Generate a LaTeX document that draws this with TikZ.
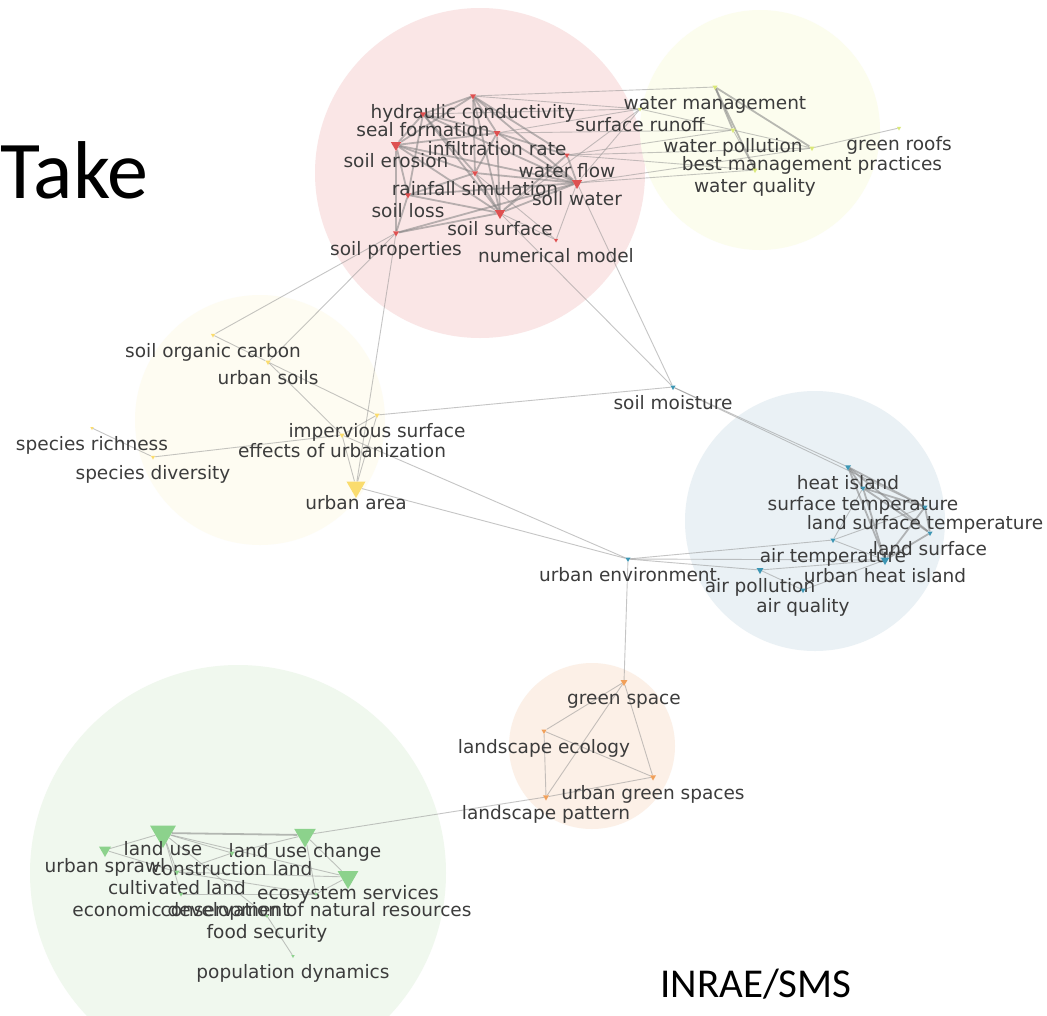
\documentclass[tikz,border=0pt]{standalone}
\usepackage{fontspec}
\usepackage{tikz}
\usetikzlibrary{shapes.geometric}
\newfontfamily\kwfont{DejaVu Sans}
\newfontfamily\slidefont{Carlito}
\definecolor{soilbg}{RGB}{250,230,230}
\definecolor{waterbg}{RGB}{252,253,238}
\definecolor{urbanbg}{RGB}{254,252,242}
\definecolor{heatbg}{RGB}{234,241,245}
\definecolor{greenbg}{RGB}{252,240,231}
\definecolor{landbg}{RGB}{240,248,238}
\definecolor{soilcol}{RGB}{222,80,80}
\definecolor{watercol}{RGB}{218,232,120}
\definecolor{urbancol}{RGB}{250,220,110}
\definecolor{heatcol}{RGB}{60,150,180}
\definecolor{greencol}{RGB}{240,160,90}
\definecolor{landcol}{RGB}{140,210,140}
\definecolor{kwtext}{RGB}{60,60,60}
\pgfdeclarelayer{bg}
\pgfdeclarelayer{links}
\pgfsetlayers{bg,links,main}
\tikzset{
  kwmark/.style={regular polygon,regular polygon sides=3,shape border rotate=180,
    inner sep=0pt,draw=none},
  kwlabel/.style={anchor=base,inner sep=0pt,text=kwtext,
    font=\kwfont\fontsize{18.5}{19}\selectfont},
  link/.style={line width=0.9pt,draw=black!45,draw opacity=0.5},
  heavylink/.style={line width=1.8pt,draw=black!50,draw opacity=0.55}
}
% keyword: name, x, y, marker size, colour, label
\newcommand{\kwnode}[6]{%
  \node[kwmark,minimum size=#4pt,fill=#5] (#1) at (#2,#3) {};
  \node[kwlabel] (#1l) at (#2,#3+22) {#6};}

\begin{document}
\begin{tikzpicture}[x=1pt,y=-1pt,line cap=round,line join=round]
\clip (0,0) rectangle (1047,1015);
\begin{pgfonlayer}{bg}
  \fill[white] (0,0) rectangle (1047,1015);
  \fill[soilbg] (480,173) circle [radius=165];
  \fill[waterbg] (760,130) circle [radius=120];
  \fill[urbanbg] (260,420) circle [radius=125];
  \fill[heatbg] (815,521) circle [radius=130];
  \fill[greenbg] (592,746) circle [radius=83];
  \fill[landbg] (238,873) circle [radius=208];
\end{pgfonlayer}

\node[font=\slidefont\fontsize{82}{82}\selectfont,anchor=base west,inner sep=0pt] (take) at (0,198) {Take};
\node[font=\slidefont\fontsize{41}{41}\selectfont,anchor=base west,inner sep=0pt] (credit) at (660,997) {INRAE/SMS};

% soil cluster
\kwnode{hc}{473}{96}{7}{soilcol}{hydraulic conductivity}
\kwnode{sf}{423}{114}{7}{soilcol}{seal formation}
\kwnode{ir}{497}{133}{8}{soilcol}{infiltration rate}
\kwnode{se}{396}{145}{12}{soilcol}{soil erosion}
\kwnode{wf}{567}{155}{6}{soilcol}{water flow}
\kwnode{rs}{475}{173}{7}{soilcol}{rainfall simulation}
\kwnode{sw}{577}{183}{12}{soilcol}{soil water}
\kwnode{sl}{408}{195}{7}{soilcol}{soil loss}
\kwnode{ss}{500}{213}{12}{soilcol}{soil surface}
\kwnode{sp}{396}{233}{7}{soilcol}{soil properties}
\kwnode{nm}{556}{240}{5}{soilcol}{numerical model}
% water cluster
\kwnode{wm}{715}{87}{6}{watercol}{water management}
\kwnode{sr}{640}{109}{5}{watercol}{surface runoff}
\kwnode{wp}{733}{130}{6}{watercol}{water pollution}
\kwnode{bmp}{812}{148}{6}{watercol}{best management practices}
\kwnode{wq}{755}{170}{6}{watercol}{water quality}
\kwnode{gr}{899}{128}{5}{watercol}{green roofs}
% urban cluster
\kwnode{soc}{213}{335}{5}{urbancol}{soil organic carbon}
\kwnode{us}{268}{362}{6}{urbancol}{urban soils}
\kwnode{is}{377}{415}{6}{urbancol}{impervious surface}
\kwnode{eu}{342}{435}{6}{urbancol}{effects of urbanization}
\kwnode{srich}{92}{428}{4}{urbancol}{species richness}
\kwnode{sd}{153}{457}{5}{urbancol}{species diversity}
\kwnode{ua}{356}{487}{22}{urbancol}{urban area}
% heat cluster
\kwnode{sm}{673}{387}{6}{heatcol}{soil moisture}
\kwnode{hi}{848}{467}{7}{heatcol}{heat island}
\kwnode{st}{863}{488}{6}{heatcol}{surface temperature}
\kwnode{lst}{925}{507}{6}{heatcol}{land surface temperature}
\kwnode{ls}{930}{533}{6}{heatcol}{land surface}
\kwnode{at}{833}{540}{6}{heatcol}{air temperature}
\kwnode{uhi}{885}{560}{10}{heatcol}{urban heat island}
\kwnode{ap}{760}{570}{8}{heatcol}{air pollution}
\kwnode{aq}{803}{590}{6}{heatcol}{air quality}
\kwnode{ue}{628}{559}{6}{heatcol}{urban environment}
% green space cluster
\kwnode{gs}{624}{682}{8}{greencol}{green space}
\kwnode{le}{544}{731}{6}{greencol}{landscape ecology}
\kwnode{ugs}{653}{777}{7}{greencol}{urban green spaces}
\kwnode{lp}{546}{797}{7}{greencol}{landscape pattern}
% land use cluster
\kwnode{lu}{163}{833}{30}{landcol}{land use}
\kwnode{luc}{305}{835}{25}{landcol}{land use change}
\kwnode{usp}{105}{850}{14}{landcol}{urban sprawl}
\kwnode{cl}{232}{853}{6}{landcol}{construction land}
\kwnode{cul}{177}{872}{6}{landcol}{cultivated land}
\kwnode{es}{348}{877}{24}{landcol}{ecosystem services}
\kwnode{ed}{181}{894}{5}{landcol}{economic development}
\kwnode{con}{316}{894}{4}{landcol}{conservation of natural resources}
\kwnode{fs}{267}{916}{4}{landcol}{food security}
\kwnode{pd}{293}{956}{4}{landcol}{population dynamics}

\begin{pgfonlayer}{links}
\foreach \a/\b in {hc/sf,hc/ir,hc/se,hc/rs,hc/ss,hc/sw,hc/wf,sf/ir,sf/se,sf/rs,sf/sl,
    sf/ss,sf/sw,ir/se,ir/rs,ir/ss,ir/sw,ir/wf,se/rs,se/sl,se/ss,se/sp,se/sw,rs/sl,
    rs/ss,rs/sw,sl/ss,sl/sp,ss/sw,ss/sp,sw/wf,sl/sw,wf/ss,sp/sw,
    wm/wp,wm/bmp,wm/wq,hi/st,hi/lst,hi/ls,hi/uhi,st/lst,st/ls,st/uhi,lst/ls,
    lst/uhi,ls/uhi,lu/luc}
  \draw[heavylink] (\a) -- (\b);
\foreach \a/\b in {ss/nm,sw/nm,rs/nm,wp/bmp,wp/wq,bmp/gr,sr/wp,hc/wm,hc/sr,ir/sr,
    ir/wp,sf/sr,wf/wp,wf/bmp,sw/bmp,sw/wq,ss/sr,sw/sr,wf/wq,
    sp/soc,sp/us,sp/ua,sw/sm,ss/sm,
    soc/us,us/eu,us/is,is/eu,is/ua,eu/ua,srich/sd,sd/eu,is/sm,eu/ue,ua/ue,
    sm/hi,sm/lst,st/at,lst/at,at/uhi,at/ue,ap/ue,ap/aq,ap/uhi,aq/uhi,ue/uhi,
    gs/le,gs/ugs,gs/lp,le/ugs,le/lp,lp/ugs,gs/ue,lp/luc,
    lu/usp,lu/cl,lu/cul,lu/ed,lu/es,luc/cl,luc/es,luc/con,cl/cul,cul/es,
    cul/con,ed/con,es/con,fs/pd,lu/fs,usp/cul}
  \draw[link] (\a) -- (\b);
\end{pgfonlayer}
\end{tikzpicture}
\end{document}
